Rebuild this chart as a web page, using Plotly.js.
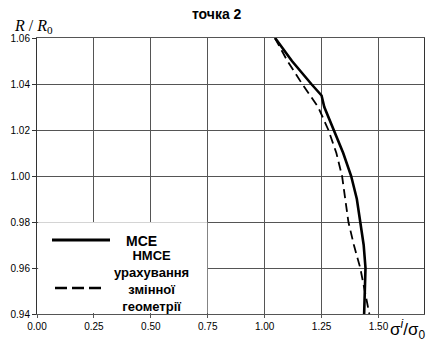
<!DOCTYPE html>
<html><head><meta charset="utf-8">
<script src="https://cdn.plot.ly/plotly-3.0.1.min.js"></script>
<style>html,body{margin:0;padding:0;background:#fff}#chart{width:429px;height:343px}</style>
</head><body><div id="chart"></div>
<script>
// Data
var mceR     = [1.060, 1.050, 1.040, 1.035, 1.030, 1.020, 1.010, 1.000, 0.990, 0.980, 0.970, 0.960, 0.950, 0.940];
var mceSigma = [1.046, 1.120, 1.205, 1.250, 1.262, 1.303, 1.345, 1.380, 1.405, 1.420, 1.435, 1.443, 1.440, 1.437];
var nmceR     = [1.060, 1.050, 1.040, 1.030, 1.020, 1.010, 1.000, 0.990, 0.980, 0.970, 0.960, 0.950, 0.940];
var nmceSigma = [1.045, 1.100, 1.165, 1.235, 1.280, 1.315, 1.340, 1.355, 1.368, 1.392, 1.420, 1.440, 1.460];
var xTicks = [0, 0.25, 0.5, 0.75, 1.0, 1.25, 1.5];
var yTicks = [0.94, 0.96, 0.98, 1.00, 1.02, 1.04, 1.06];
var seriesNames = ['МСЕ', 'НМСЕ<br>урахування<br>змінної<br>геометрії'];
var chartTitle = 'точка 2';

var traces = [
  {x: mceSigma, y: mceR, mode: 'lines', name: seriesNames[0], line: {color: '#000', width: 2.6}, showlegend: false},
  {x: nmceSigma, y: nmceR, mode: 'lines', name: seriesNames[1], line: {color: '#000', width: 1.8, dash: '9px,5px'}, showlegend: false}
];

function px(x) { return (x - 37) / 387; }
function py(y) { return (314 - y) / 276; }

var annotations = [
  {xref: 'paper', yref: 'paper', x: px(141), y: py(241), text: '<b>' + seriesNames[0] + '</b>', showarrow: false, xanchor: 'center', yanchor: 'middle', font: {size: 14}},
  {xref: 'paper', yref: 'paper', x: px(151), y: py(281), text: '<b>' + seriesNames[1] + '</b>', showarrow: false, xanchor: 'center', yanchor: 'middle', align: 'center', borderpad: 0, font: {size: 13}},
  {xref: 'paper', yref: 'paper', x: -0.065, y: 1.0, text: '<i>R</i> / <i>R</i><sub>0</sub>', showarrow: false, xanchor: 'left', yanchor: 'bottom', font: {size: 16, family: 'Liberation Serif, Times New Roman, serif'}},
  {xref: 'paper', yref: 'paper', x: 1.008, y: -0.005, text: 'σ<sup><i>i</i></sup>/σ<sub>0</sub>', showarrow: false, xanchor: 'right', yanchor: 'top', font: {size: 17}}
];

var layout = {
  width: 429, height: 343,
  margin: {l: 37, r: 5, t: 38, b: 29},
  paper_bgcolor: '#fff', plot_bgcolor: '#fff',
  font: {family: 'Liberation Sans, Arial, sans-serif', size: 10, color: '#000'},
  title: {text: '<b>' + chartTitle + '</b>', font: {size: 14, family: 'Liberation Sans, Arial, sans-serif'}, x: 0.505, xanchor: 'center', y: 0.958, yanchor: 'middle'},
  showlegend: false,
  xaxis: {range: [0, 1.7], tickvals: xTicks, tickformat: '.2f', showgrid: true, gridcolor: '#555', gridwidth: 1,
          zeroline: false, showline: true, linecolor: '#555', linewidth: 1, mirror: true,
          ticks: 'outside', ticklen: 3, tickcolor: '#555', tickfont: {size: 10}},
  yaxis: {range: [0.94, 1.06], tickvals: yTicks, tickformat: '.2f', showgrid: true, gridcolor: '#555', gridwidth: 1,
          zeroline: false, showline: true, linecolor: '#333', linewidth: 1, mirror: true,
          ticks: 'outside', ticklen: 4, tickcolor: '#333', tickfont: {size: 10}},
  shapes: [
    {type: 'rect', xref: 'paper', yref: 'paper', x0: 0.003, x1: 0.44, y0: 0.004, y1: 0.332, fillcolor: '#fff', line: {width: 0}, layer: 'above'},
    {type: 'line', xref: 'paper', yref: 'paper', x0: px(52), x1: px(110), y0: py(240), y1: py(240), line: {color: '#000', width: 3}, layer: 'above'},
    {type: 'line', xref: 'paper', yref: 'paper', x0: px(55), x1: px(102), y0: py(288), y1: py(288), line: {color: '#000', width: 2.6, dash: '12px,5px'}, layer: 'above'}
  ],
  annotations: annotations
};

Plotly.newPlot('chart', traces, layout, {displayModeBar: false, staticPlot: true});
</script></body></html>
